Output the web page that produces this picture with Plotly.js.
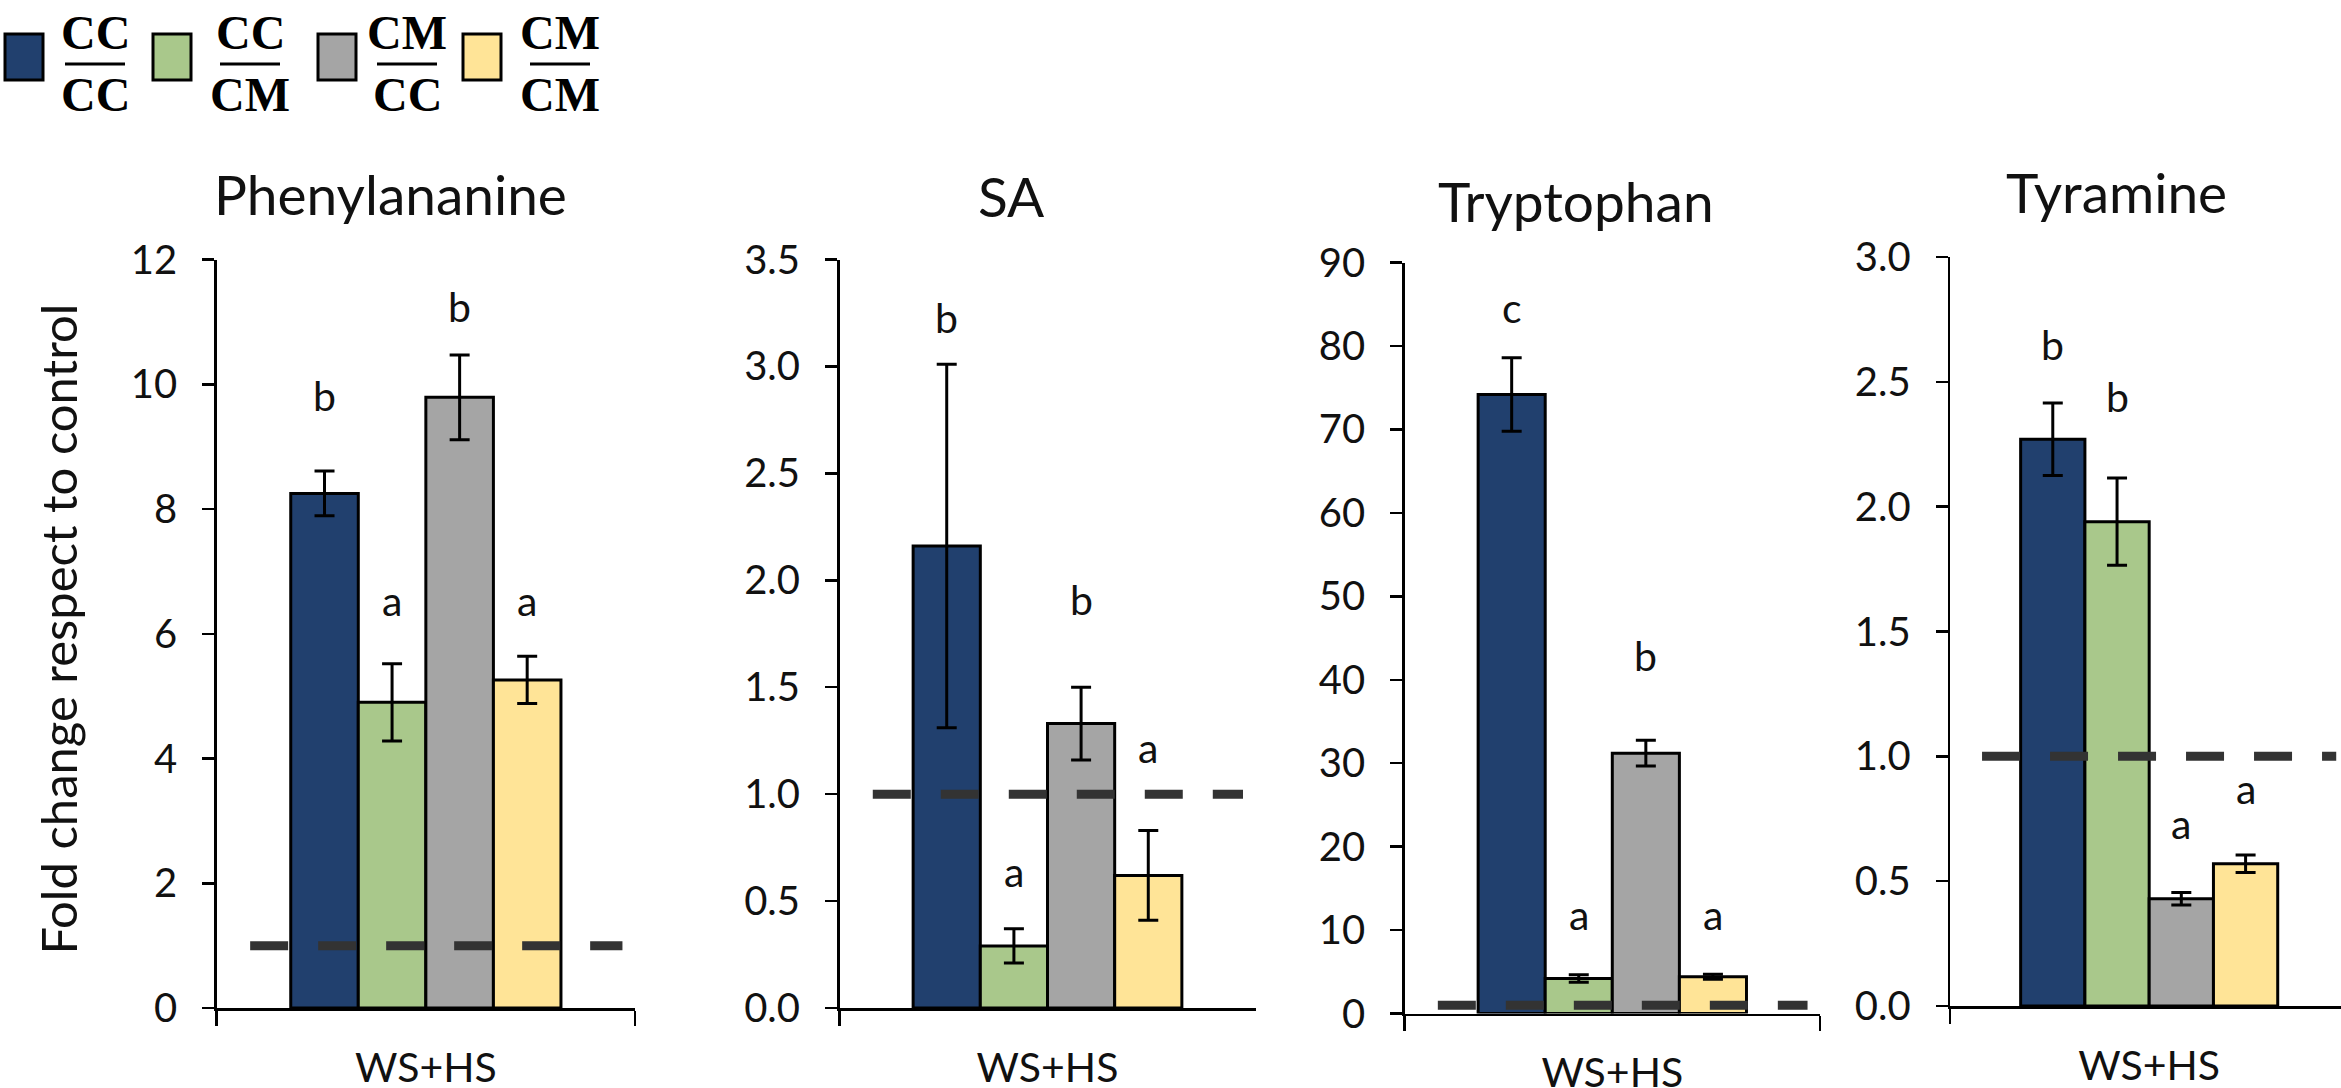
<!DOCTYPE html>
<html>
<head>
<meta charset="utf-8">
<script src="https://cdn.plot.ly/plotly-3.0.1.min.js"></script>
<style>html,body{margin:0;padding:0;background:#fff;}#chart{width:2341px;height:1088px;}</style>
</head>
<body>
<div id="chart"></div>
<script>
// ---------------- data ----------------
const categories = ['WS+HS'];
const panelTitles = ['Phenylananine', 'SA', 'Tryptophan', 'Tyramine'];
const seriesNumerator = ['CC', 'CC', 'CM', 'CM'];
const seriesDenominator = ['CC', 'CM', 'CC', 'CM'];
const seriesColors = ['#21406E', '#A9C88B', '#A5A5A5', '#FFE497'];

const phenylalanineMean = [8.25, 4.90, 9.79, 5.26];
const phenylalanineErr = [0.36, 0.62, 0.68, 0.38];
const phenylalanineLetters = ['b', 'a', 'b', 'a'];
const phenylalanineLetterY = [9.82, 6.53, 11.24, 6.53];

const saMean = [2.16, 0.29, 1.33, 0.62];
const saErr = [0.85, 0.08, 0.17, 0.21];
const saLetters = ['b', 'a', 'b', 'a'];
const saLetterY = [3.23, 0.64, 1.91, 1.22];

const tryptophanMean = [74.2, 4.2, 31.2, 4.4];
const tryptophanErr = [4.4, 0.45, 1.55, 0.3];
const tryptophanLetters = ['c', 'a', 'b', 'a'];
const tryptophanLetterY = [84.6, 11.9, 42.9, 11.9];

const tyramineMean = [2.27, 1.94, 0.43, 0.57];
const tyramineErr = [0.145, 0.175, 0.025, 0.035];
const tyramineLetters = ['b', 'b', 'a', 'a'];
const tyramineLetterY = [2.65, 2.44, 0.73, 0.87];

const controlLevel = 1;
const yAxisMax = [12, 3.5, 90, 3.0];
const yAxisStep = [2, 0.5, 10, 0.5];
const yAxisTitle = 'Fold change respect to control';

// ---------------- layout helpers ----------------
const W = 2341, H = 1088;
const px = v => v / W;
const py = v => 1 - v / H;
const FONT = 'Lato, "Open Sans", sans-serif';
const TXT = '#111111';
const BARGAP = 0.354;

const panelData = [
  {mean: phenylalanineMean, err: phenylalanineErr, letters: phenylalanineLetters, ly: phenylalanineLetterY},
  {mean: saMean, err: saErr, letters: saLetters, ly: saLetterY},
  {mean: tryptophanMean, err: tryptophanErr, letters: tryptophanLetters, ly: tryptophanLetterY},
  {mean: tyramineMean, err: tyramineErr, letters: tyramineLetters, ly: tyramineLetterY}
];

const panelBox = [
  {x0: 216.7, x1: 635, xmax: 0.5, yTop: 259.5, yBot: 1008, tx: 390, ty: 194, fmt: 'd'},
  {x0: 839.5, x1: 1255.5, xmax: 0.5, yTop: 259.5, yBot: 1008, tx: 1011.5, ty: 196, fmt: '.1f'},
  {x0: 1404.6, x1: 1820, xmax: 0.5, yTop: 262.6, yBot: 1013.5, tx: 1575.8, ty: 201, fmt: 'd'},
  {x0: 1950.2, x1: 2341, xmax: 0.482, yTop: 257, yBot: 1006, tx: 2116.4, ty: 192, fmt: '.1f'}
];

const traces = [];
const layout = {
  width: W, height: H,
  margin: {l: 0, r: 0, t: 0, b: 0, pad: 0},
  paper_bgcolor: '#ffffff', plot_bgcolor: 'rgba(0,0,0,0)',
  barmode: 'group', bargap: BARGAP, bargroupgap: 0,
  showlegend: false,
  font: {family: FONT, color: TXT},
  shapes: [], annotations: []
};

const nS = seriesColors.length;
const slotW = (1 - BARGAP) / nS;

panelData.forEach((pd, p) => {
  const ax = p === 0 ? '' : String(p + 1);
  const box = panelBox[p];
  seriesColors.forEach((col, s) => {
    traces.push({
      type: 'bar',
      x: categories,
      y: [pd.mean[s]],
      xaxis: 'x' + ax, yaxis: 'y' + ax,
      marker: {color: col, line: {color: '#000000', width: 3}},
      error_y: {type: 'data', array: [pd.err[s]], visible: true, color: '#000000', thickness: 3, width: 10},
      hoverinfo: 'skip',
      showlegend: false
    });
    // significance letters
    layout.annotations.push({
      xref: 'x' + ax, yref: 'y' + ax,
      x: -0.5 + BARGAP / 2 + (s + 0.5) * slotW,
      y: pd.ly[s],
      text: pd.letters[s], showarrow: false,
      xanchor: 'center', yanchor: 'middle',
      font: {family: FONT, size: 41, color: TXT}
    });
  });

  layout['xaxis' + ax] = {
    domain: [px(box.x0), px(box.x1)],
    anchor: 'y' + ax,
    type: 'category',
    range: [-0.5, box.xmax],
    showline: true, linecolor: '#000000', linewidth: 2.5,
    ticks: 'outside', tickson: 'boundaries', ticklen: 15, tickwidth: 2.5, tickcolor: '#000000',
    tickfont: {family: FONT, size: 41, color: TXT},
    ticklabelstandoff: 22,
    showgrid: false, zeroline: false, fixedrange: true
  };
  layout['yaxis' + ax] = {
    domain: [py(box.yBot), py(box.yTop)],
    anchor: 'x' + ax,
    range: [0, yAxisMax[p]],
    tick0: 0, dtick: yAxisStep[p], tickformat: box.fmt,
    showline: true, linecolor: '#000000', linewidth: 2.5,
    ticks: 'outside', ticklen: 12, tickwidth: 2.5, tickcolor: '#000000',
    tickfont: {family: FONT, size: 40, color: TXT},
    ticklabelstandoff: 17,
    showgrid: false, zeroline: false, fixedrange: true
  };

  // control reference (dashed)
  layout.shapes.push({
    type: 'line', xref: 'x' + ax, yref: 'y' + ax,
    x0: -0.42, x1: 0.47, y0: controlLevel, y1: controlLevel,
    line: {color: '#333333', width: 9, dash: '38px,30px'},
    layer: 'above'
  });

  // panel title
  layout.annotations.push({
    xref: 'paper', yref: 'paper', x: px(box.tx), y: py(box.ty),
    text: panelTitles[p], showarrow: false, xanchor: 'center', yanchor: 'middle',
    font: {family: FONT, size: 55, color: TXT}
  });
});

// y-axis title
layout.annotations.push({
  xref: 'paper', yref: 'paper', x: px(57), y: py(629.5),
  text: yAxisTitle, textangle: -90, showarrow: false,
  xanchor: 'center', yanchor: 'middle',
  font: {family: FONT, size: 49, color: TXT}
});

// custom legend with fraction labels
const LEGFONT = '"Liberation Serif", "DejaVu Serif", serif';
const legSquareX = [5, 153, 318, 463];
const legFracX = [95, 250, 407, 560];
seriesColors.forEach((col, s) => {
  layout.shapes.push({
    type: 'rect', xref: 'paper', yref: 'paper',
    x0: px(legSquareX[s]), x1: px(legSquareX[s] + 38),
    y0: py(80), y1: py(34),
    fillcolor: col, line: {color: '#000000', width: 3}
  });
  layout.shapes.push({
    type: 'line', xref: 'paper', yref: 'paper',
    x0: px(legFracX[s] - 30), x1: px(legFracX[s] + 30),
    y0: py(64), y1: py(64),
    line: {color: '#000000', width: 3}
  });
  layout.annotations.push({
    xref: 'paper', yref: 'paper', x: px(legFracX[s]), y: py(33),
    text: '<b>' + seriesNumerator[s] + '</b>', showarrow: false,
    xanchor: 'center', yanchor: 'middle',
    font: {family: LEGFONT, size: 48, color: '#000000'}
  });
  layout.annotations.push({
    xref: 'paper', yref: 'paper', x: px(legFracX[s]), y: py(95),
    text: '<b>' + seriesDenominator[s] + '</b>', showarrow: false,
    xanchor: 'center', yanchor: 'middle',
    font: {family: LEGFONT, size: 48, color: '#000000'}
  });
});

Plotly.newPlot('chart', traces, layout, {displayModeBar: false, staticPlot: true});
</script>
</body>
</html>
